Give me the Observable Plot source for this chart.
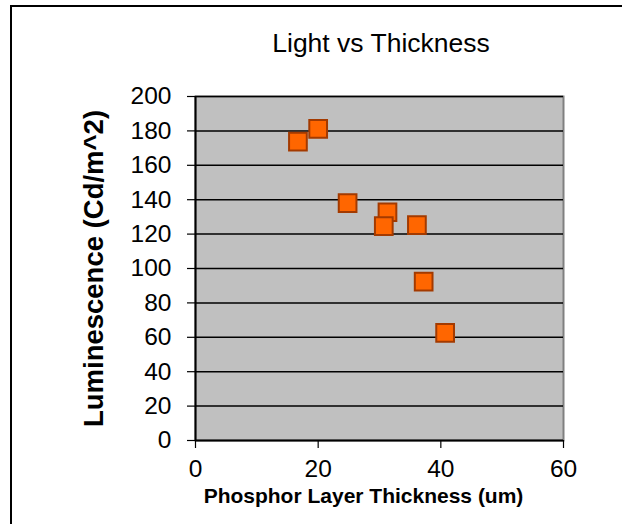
<!DOCTYPE html>
<html>
<head>
<meta charset="utf-8">
<script src="https://cdn.jsdelivr.net/npm/d3@7"></script>
<script src="https://cdn.jsdelivr.net/npm/@observablehq/plot@0.6"></script>
<style>
  html, body { margin: 0; padding: 0; background: #fff; }
  #wrap { position: relative; width: 622px; height: 524px; overflow: hidden; font-family: "Liberation Sans", Arial, sans-serif; }
  #frame { position: absolute; left: 10px; top: 5px; width: 640px; height: 560px; border: 2px solid #000; box-sizing: border-box; }
  #title { position: absolute; left: 231px; width: 300px; top: 27px; text-align: center; font-size: 26.5px; line-height: 32px; color: #000; }
  #chart { position: absolute; left: 0; top: 0; }
</style>
</head>
<body>
<div id="wrap">
  <div id="frame"></div>
  <div id="chart"></div>
  <div id="title">Light vs Thickness</div>
</div>
<script>
const thickness = [16.7, 20.0, 24.8, 31.3, 30.7, 36.1, 37.2, 40.7];
const luminescence = [173.8, 181.2, 138.0, 132.7, 124.6, 125.2, 92.4, 62.6];
const xTicks = [0, 20, 40, 60];
const yTicks = [0, 20, 40, 60, 80, 100, 120, 140, 160, 180, 200];
const xLabel = "Phosphor Layer Thickness (um)";
const yLabel = "Luminescence (Cd/m^2)";

const data = thickness.map((t, i) => ({thickness: t, luminescence: luminescence[i]}));

const chart = Plot.plot({
  width: 622,
  height: 524,
  marginLeft: 195,
  marginRight: 59,
  marginTop: 96,
  marginBottom: 84,
  style: {background: "transparent", fontFamily: "'Liberation Sans', Arial, sans-serif", color: "#000"},
  x: {domain: [0, 60]},
  y: {domain: [0, 200]},
  marks: [
    Plot.frame({fill: "#C0C0C0", stroke: "#808080", strokeWidth: 2}),
    Plot.ruleY(yTicks.filter(d => d > 0), {stroke: "#000", strokeWidth: 1.5}),
    Plot.ruleY([0], {stroke: "#000", strokeWidth: 2}),
    Plot.ruleX([0], {stroke: "#000", strokeWidth: 2}),
    Plot.axisX({ticks: xTicks, tickSize: 8, tickPadding: 11, fontSize: 24.5, label: null, stroke: "#000", strokeWidth: 1.2}),
    Plot.axisY({ticks: yTicks, tickSize: 8, tickPadding: 16, fontSize: 24.5, label: null, stroke: "#000", strokeWidth: 1.2}),
    Plot.text([xLabel], {frameAnchor: "bottom", dy: 62, dx: -16, fontSize: 21, fontWeight: "bold", fill: "#000"}),
    Plot.text([yLabel], {frameAnchor: "left", dx: -101, rotate: -90, textAnchor: "middle", fontSize: 27.5, fontWeight: "bold", fill: "#000"}),
    Plot.dot(data, {x: "thickness", y: "luminescence", symbol: "square", r: 10, fill: "#FF6600", stroke: "#A33A00", strokeWidth: 2})
  ]
});
document.getElementById("chart").appendChild(chart);
</script>
</body>
</html>
